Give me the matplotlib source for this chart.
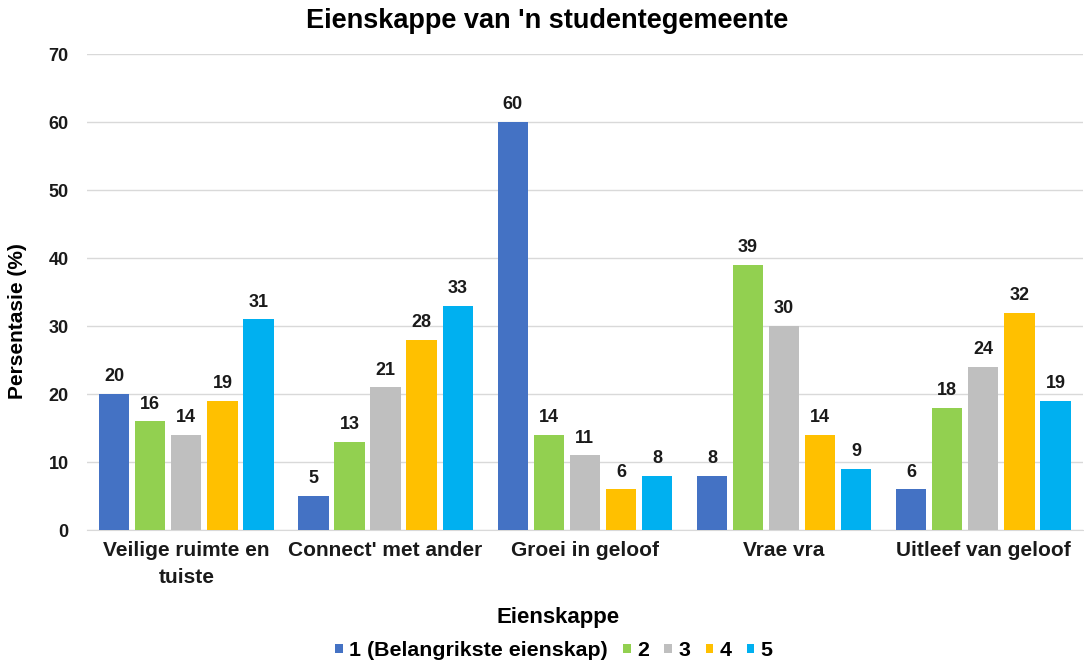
import numpy as np
import matplotlib.pyplot as plt

plt.rcParams['font.family'] = ['Liberation Sans', 'DejaVu Sans']
plt.rcParams['font.weight'] = 'bold'

categories = ['Veilige ruimte en\ntuiste', "Connect' met ander", 'Groei in geloof',
              'Vrae vra', 'Uitleef van geloof']
series_names = ['1 (Belangrikste eienskap)', '2', '3', '4', '5']
rank1 = [20, 5, 60, 8, 6]
rank2 = [16, 13, 14, 39, 18]
rank3 = [14, 21, 11, 30, 24]
rank4 = [19, 28, 6, 14, 32]
rank5 = [31, 33, 8, 9, 19]
colors = ['#4472C4', '#92D050', '#BFBFBF', '#FFC000', '#00B0F0']

series = [rank1, rank2, rank3, rank4, rank5]

fig = plt.figure(figsize=(10.84, 6.62), dpi=100)
ax = fig.add_axes([0.080, 0.199, 0.919, 0.719])

x = np.arange(len(categories))
width = 0.152
step = 0.181
for i, (vals, name, col) in enumerate(zip(series, series_names, colors)):
    pos = x + (i - 2) * step
    bars = ax.bar(pos, vals, width, color=col, label=name, zorder=3)
    for b, v in zip(bars, vals):
        ax.text(b.get_x() + b.get_width() / 2, v + 1.3, str(v), ha='center', va='bottom',
                fontsize=13, fontweight='bold', color='#1a1a1a')

ax.set_ylim(0, 70)
ax.set_xlim(-0.5, len(categories) - 0.5)
ax.set_yticks(range(0, 71, 10))
ax.yaxis.grid(True, color='#d9d9d9', linewidth=1, zorder=0)
ax.set_xticks(x)
ax.set_xticklabels(categories, fontsize=15, fontweight='bold', color='#1a1a1a',
                   linespacing=1.5)
ax.tick_params(axis='y', labelsize=13, length=0, pad=13, colors='#1a1a1a')
ax.tick_params(axis='x', length=0, pad=8)
for s in ['top', 'right', 'left']:
    ax.spines[s].set_visible(False)
ax.spines['bottom'].set_color('#d9d9d9')

ax.set_ylabel('Persentasie (%)', fontsize=15, fontweight='bold')
ax.yaxis.set_label_coords(-0.060, 0.44)
ax.set_xlabel('Eienskappe', fontsize=16, fontweight='bold')
ax.xaxis.set_label_coords(0.473, -0.162)
fig.text(0.505, 0.968, "Eienskappe van 'n studentegemeente", ha='center', va='center',
         fontsize=19.5, fontweight='bold')

ax.legend(loc='center', bbox_to_anchor=(0.469, -0.253), ncol=5, frameon=False,
          fontsize=15.4, handlelength=0.34, handleheight=0.34, handletextpad=0.3,
          columnspacing=0.73)

fig.savefig('out.png', dpi=100)
